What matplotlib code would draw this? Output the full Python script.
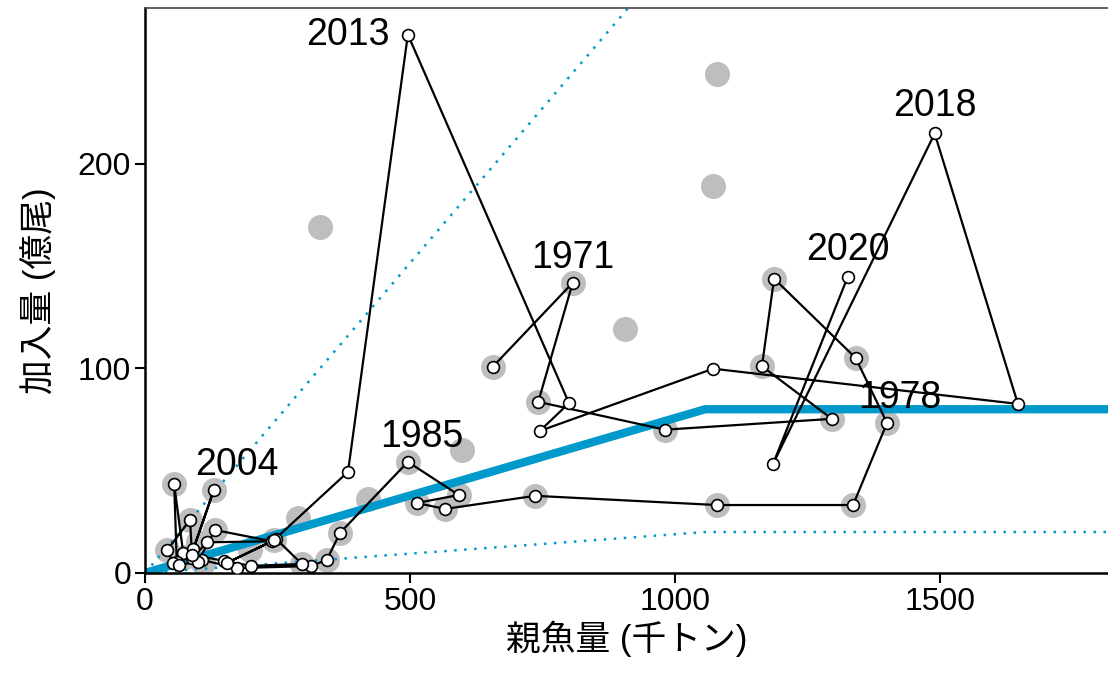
import matplotlib
matplotlib.use('Agg')
import matplotlib.pyplot as plt
import numpy as np

plt.rcParams['font.family'] = ['Liberation Sans', 'Noto Sans CJK JP', 'DejaVu Sans']

### DATA
# trajectory of stock (千トン) and recruits (億尾), 1970-2020
years = list(range(1970, 2021))
ssb = [656, 807, 742, 981, 1296, 1164, 1187, 1341, 1400, 1336,
       1079, 736, 566, 513, 592, 496, 368, 343, 313, 173,
       107, 72, 55, 60, 53, 42, 85, 89, 117, 240,
       132, 100, 65, 91, 130, 88, 149, 200, 296, 248,
       155, 243, 383, 496, 800, 745, 1072, 1647, 1490, 1185,
       1326]
rec = [100.7, 141.8, 83.6, 70.0, 75.3, 101.0, 143.8, 105.0, 73.3, 33.2,
       33.2, 37.7, 31.3, 34.2, 38.1, 54.3, 19.6, 6.4, 3.4, 2.4,
       6.4, 9.8, 43.5, 5.4, 4.9, 11.2, 26.0, 7.3, 15.0, 15.5,
       21.0, 5.5, 4.0, 11.7, 40.6, 9.0, 5.9, 3.5, 4.4, 16.5,
       5.0, 16.0, 49.4, 263.0, 83.0, 69.4, 99.8, 82.6, 214.7, 53.3,
       144.7]

# grey points (data used for the fit)
fit_ssb = [656, 807, 742, 981, 1296, 1164, 1187, 1341, 1400, 1336,
           1079, 736, 566, 513, 592, 496, 368, 343, 296, 243,
           55, 130, 85, 42, 132, 100, 198, 1079, 1072, 330,
           906, 598, 420, 289, 75, 110]
fit_rec = [100.7, 141.8, 83.6, 70.0, 75.3, 101.0, 143.8, 105.0, 73.3, 33.2,
           33.2, 37.7, 31.3, 34.2, 38.1, 54.3, 19.6, 6.4, 4.4, 16.0,
           43.5, 40.6, 26.0, 11.2, 21.0, 15.0, 11.0, 244.0, 189.0, 169.0,
           119.0, 60.0, 36.0, 27.0, 8.0, 5.0]

# hockey-stick relation and its bounds
hs_x = [0, 1057, 1820]
hs_y = [0, 80, 80]
hs_upper = [0, 320, 320]
hs_lower = [0, 20, 20]

label_years = [1971, 1978, 1985, 2004, 2013, 2018, 2020]
label_offsets = [(0, 25), (13, 25), (14, 25), (23, 25), (-60, 0), (0, 27), (0, 27)]

BLUE = '#0099CC'

fig = plt.figure(figsize=(11.08, 6.75), dpi=100)
ax = fig.add_axes([145 / 1108, 102 / 675, 1 - 145 / 1108, (573 - 8) / 675])

ax.plot(fit_ssb, fit_rec, 'o', ms=18, color='#BEBEBE', mec='none', zorder=1)
ax.plot(hs_x, hs_y, '-', color=BLUE, lw=6, solid_capstyle='butt', zorder=2)
ax.plot(hs_x, hs_upper, color=BLUE, lw=1.8, ls=(0, (1, 3)), zorder=2)
ax.plot(hs_x, hs_lower, color=BLUE, lw=1.8, ls=(0, (1, 3)), zorder=2)
ax.plot(ssb, rec, '-', color='black', lw=1.6, zorder=3)
ax.plot(ssb, rec, 'o', ms=8.5, mfc='white', mec='black', mew=1.2, zorder=4)

for yr, off in zip(label_years, label_offsets):
    i = years.index(yr)
    ax.annotate(str(yr), (ssb[i], rec[i]), xytext=off, textcoords='offset pixels',
                ha='center', va='center', fontsize=27, zorder=5)

ax.set_xlim(0, 1817)
ax.set_ylim(0, 276)
ax.set_xticks([0, 500, 1000, 1500])
ax.set_yticks([0, 100, 200])
ax.tick_params(labelsize=23, length=7, width=1.5, color='black', pad=3)
ax.set_xlabel('親魚量 (千トン)', fontsize=25)
ax.set_ylabel('加入量 (億尾)', fontsize=25)
ax.xaxis.set_label_coords(0.5, -(639 - 573) / 565, transform=ax.transAxes)
ax.yaxis.set_label_coords(-(145 - 38) / 963, 0.5, transform=ax.transAxes)
ax.xaxis.label.set_va('center')
ax.yaxis.label.set_va('center')

for s in ['left', 'bottom']:
    ax.spines[s].set_linewidth(1.8)
ax.spines['top'].set_color('#444444')
ax.spines['top'].set_linewidth(1.2)
ax.spines['right'].set_visible(False)

fig.savefig('out.png', dpi=100)
